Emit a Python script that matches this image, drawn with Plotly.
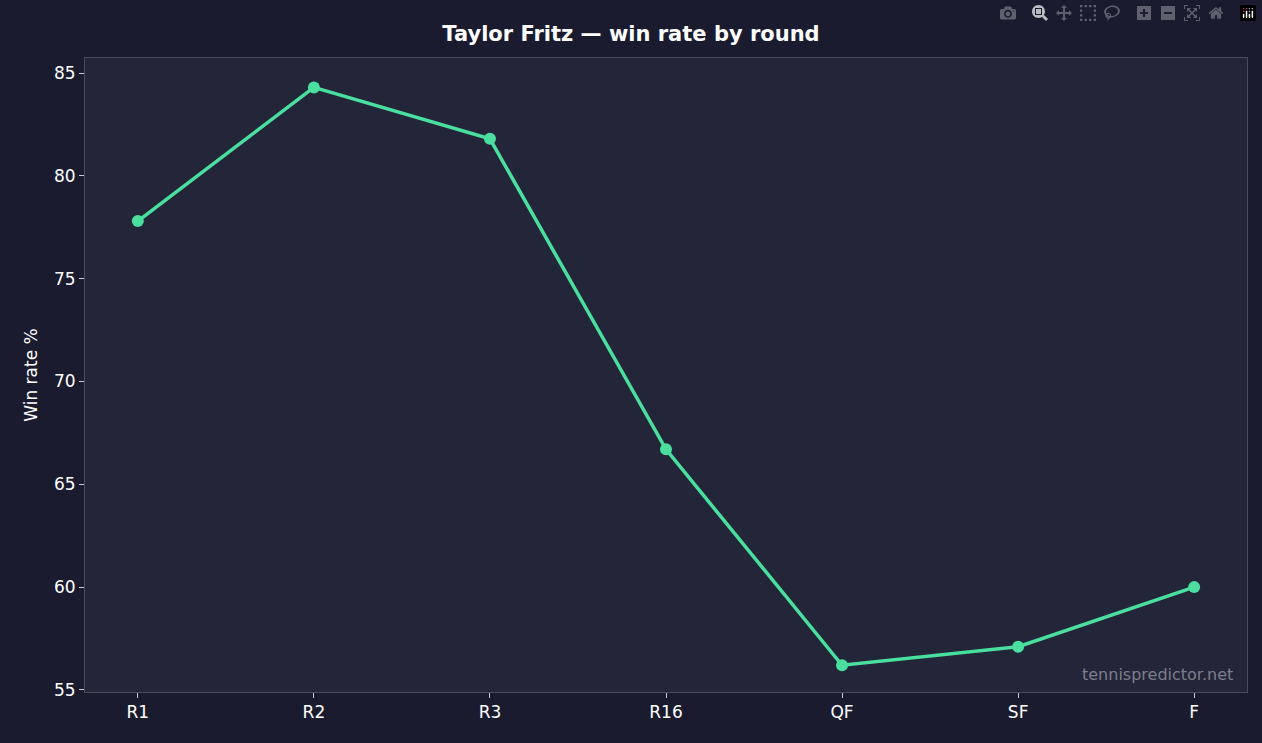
import plotly.graph_objects as go

rounds = ["R1", "R2", "R3", "R16", "QF", "SF", "F"]
win_rate = [77.8, 84.3, 81.8, 66.7, 56.2, 57.1, 60.0]

fig = go.Figure(go.Scatter(
    x=list(range(len(rounds))), y=win_rate, mode="lines+markers",
    line=dict(color="#4ade9f", width=3.5), marker=dict(size=12, color="#4ade9f"),
))
axis_common = dict(showgrid=False, zeroline=False, showline=True, linecolor="#4a4b5a", mirror=True,
                   ticks="outside", tickcolor="#cccccc", ticklen=5, tickfont=dict(size=17, color="white"))
fig.update_layout(
    width=1262, height=743, paper_bgcolor="#1a1b2e", plot_bgcolor="#232538",
    font=dict(family="DejaVu Sans", color="white"),
    margin=dict(l=85, r=15, t=58, b=51),
    title=dict(text="<b>Taylor Fritz — win rate by round</b>", x=0.5, xanchor="center", y=0.965, font=dict(size=21)),
    xaxis=dict(axis_common, tickmode="array", tickvals=list(range(len(rounds))), ticktext=rounds, range=[-0.3, 6.3]),
    yaxis=dict(axis_common, range=[54.9, 85.73], tickvals=[55, 60, 65, 70, 75, 80, 85],
               title=dict(text="Win rate %", font=dict(size=17, color="white"), standoff=12)),
    showlegend=False,
    annotations=[dict(text="tennispredictor.net", xref="paper", yref="paper", x=0.99, y=0.01,
                      xanchor="right", yanchor="bottom", showarrow=False,
                      font=dict(size=16, color="#7d7e8c"))],
)
fig.write_html("out.html", post_script="document.body.style.margin='0';document.body.style.background='#1a1b2e';")
